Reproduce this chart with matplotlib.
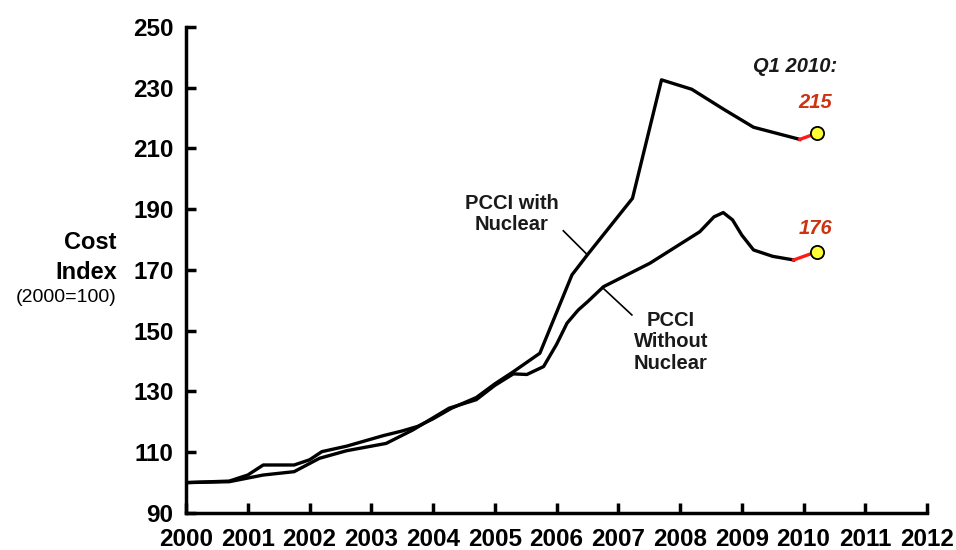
import numpy as np
import matplotlib.pyplot as plt

plt.rcParams['font.family'] = ['Liberation Sans', 'DejaVu Sans']

# PCCI with nuclear
yr_nuc = [2000.0, 2000.7, 2001.0, 2001.25, 2001.75, 2002.0, 2002.2, 2002.6, 2003.2, 2003.5,
          2003.75, 2004.0, 2004.3, 2004.7, 2005.0, 2005.3, 2005.73, 2006.25, 2006.5, 2007.23,
          2007.70, 2008.19, 2008.7, 2009.19, 2009.94]
val_nuc = [100, 100.5, 102.5, 105.8, 105.8, 107.5, 110.2, 112, 115.5, 117,
           118.5, 121, 124.5, 128, 132.5, 136.5, 142.6, 168.4, 175, 193.6,
           232.6, 229.5, 223, 217.0, 213.0]

# PCCI without nuclear
yr_non = [2000.0, 2000.7, 2001.25, 2001.75, 2002.16, 2002.6, 2003.24, 2003.67, 2004.26, 2004.7,
          2005.0, 2005.3, 2005.52, 2005.79, 2006.0, 2006.17, 2006.35, 2006.5, 2006.76, 2007.51,
          2008.32, 2008.55, 2008.70, 2008.85, 2009.0, 2009.19, 2009.5, 2009.84]
val_non = [100, 100.3, 102.5, 103.6, 108, 110.5, 112.9, 117.3, 124.5, 127.3,
           132, 135.8, 135.6, 138.2, 145.5, 152.5, 156.8, 159.5, 164.5, 172.2,
           182.6, 187.5, 188.9, 186.5, 181.5, 176.6, 174.5, 173.3]

# Q1 2010 points
q1_year = 2010.21
q1_nuc = 215
q1_non = 176

fig = plt.figure(figsize=(9.56, 5.5), dpi=100)
ax = fig.add_axes([0.1946, 0.0673, 0.7751, 0.8836])

ax.plot(yr_nuc, val_nuc, color='black', lw=2.4, solid_joinstyle='round')
ax.plot(yr_non, val_non, color='black', lw=2.4, solid_joinstyle='round')

# red connectors to the Q1 2010 dots
ax.plot([yr_nuc[-1], q1_year], [val_nuc[-1], q1_nuc], color='#ff1a1a', lw=2.4)
ax.plot([yr_non[-1], q1_year], [val_non[-1], q1_non], color='#ff1a1a', lw=2.4)
ax.plot([q1_year, q1_year], [q1_nuc, q1_non], linestyle='None', marker='o', markersize=9.5,
        markerfacecolor='#ffff33', markeredgecolor='black', markeredgewidth=1.3, clip_on=False, zorder=5)

red = '#cc3311'
ax.text(2009.87, 236.9, 'Q1 2010:', ha='center', va='center', fontsize=14.5,
        fontweight='bold', fontstyle='italic', color='#1a1a1a')
ax.text(q1_year - 0.02, 225, str(q1_nuc), ha='center', va='center', fontsize=14.5,
        fontweight='bold', fontstyle='italic', color=red)
ax.text(q1_year - 0.02, 183.7, str(q1_non), ha='center', va='center', fontsize=14.5,
        fontweight='bold', fontstyle='italic', color=red)

# series labels with leader lines
ax.text(2005.27, 188.4, 'PCCI with\nNuclear', ha='center', va='center', fontsize=14.5,
        fontweight='bold', color='#1a1a1a', linespacing=1.15)
ax.plot([2006.11, 2006.50], [182.9, 175.0], color='black', lw=1.2)
ax.text(2007.85, 146.3, 'PCCI\nWithout\nNuclear', ha='center', va='center', fontsize=14.5,
        fontweight='bold', color='#1a1a1a', linespacing=1.15)
ax.plot([2006.75, 2007.22], [164.1, 155.2], color='black', lw=1.2)

# y axis title
ax.text(1998.88, 178.9, 'Cost', ha='right', va='center', fontsize=17, fontweight='bold', clip_on=False)
ax.text(1998.88, 169.3, 'Index', ha='right', va='center', fontsize=17, fontweight='bold', clip_on=False)
ax.text(1998.88, 160.8, '(2000=100)', ha='right', va='center', fontsize=14, clip_on=False)

ax.set_xlim(2000, 2012)
ax.set_ylim(90, 250)
ax.set_xticks(np.arange(2000, 2013))
ax.set_yticks(np.arange(90, 251, 20))
ax.set_xticks([2012], minor=True)
ax.set_yticks([250], minor=True)
ax.tick_params(which='major', direction='in', length=7, width=2.5, labelsize=17.5, pad=9)
ax.tick_params(axis='x', which='major', pad=11)
ax.tick_params(which='minor', direction='in', length=10, width=2.5, labelbottom=False, labelleft=False)
for lab in ax.get_xticklabels() + ax.get_yticklabels():
    lab.set_fontweight('bold')

for s in ['top', 'right']:
    ax.spines[s].set_visible(False)
for s in ['left', 'bottom']:
    ax.spines[s].set_linewidth(2.5)

fig.savefig('out.png', dpi=100)
